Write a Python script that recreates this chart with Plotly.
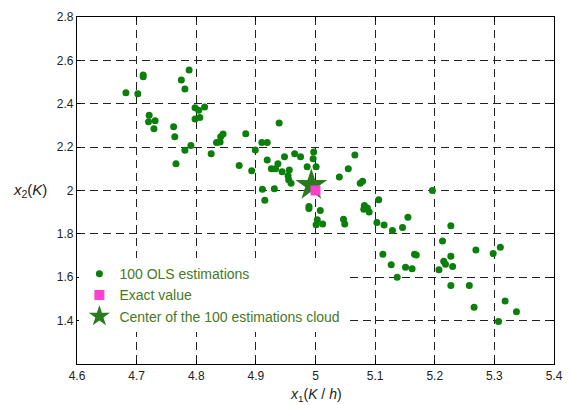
import plotly.graph_objects as go

# OLS estimation cloud (x1 in K/h, x2 in K)
ols_x1 = [4.682, 4.702, 4.711, 4.711, 4.721, 4.720, 4.731, 4.729, 4.762, 4.764,
          4.766, 4.775, 4.781, 4.788, 4.781, 4.791, 4.798, 4.798, 4.804, 4.806,
          4.814, 4.825, 4.834, 4.840, 4.841, 4.845, 4.872, 4.883, 4.893, 4.899,
          4.910, 4.919, 4.919, 4.926, 4.933, 4.937, 4.939, 4.944, 4.948, 4.954,
          4.955, 4.959, 4.956, 4.965, 4.975, 4.986, 4.911, 4.915, 4.931, 4.997,
          4.996, 5.001, 5.040, 5.055, 5.066, 5.075, 5.079, 5.196, 5.106, 4.989,
          4.989, 5.008, 5.003, 5.001, 5.012, 5.047, 5.049, 5.082, 5.081, 5.087,
          5.090, 5.103, 5.115, 5.129, 5.146, 5.155, 5.227, 5.213, 5.113, 5.127,
          5.137, 5.151, 5.162, 5.166, 5.169, 5.207, 5.215, 5.218, 5.227, 5.230,
          5.227, 5.258, 5.266, 5.269, 5.298, 5.310, 5.318, 5.337, 5.307]
ols_x2 = [2.451, 2.446, 2.533, 2.524, 2.347, 2.317, 2.322, 2.285, 2.294, 2.248,
          2.123, 2.509, 2.468, 2.556, 2.186, 2.207, 2.382, 2.330, 2.370, 2.337,
          2.385, 2.170, 2.221, 2.224, 2.248, 2.261, 2.115, 2.262, 2.091, 2.187,
          2.221, 2.221, 2.141, 2.100, 2.100, 2.123, 2.311, 2.087, 2.156, 2.068,
          2.049, 2.034, 2.095, 2.170, 2.156, 2.110, 2.006, 1.955, 2.008, 2.177,
          2.146, 2.109, 2.062, 2.100, 2.164, 2.034, 2.043, 2.000, 1.957, 1.926,
          1.917, 1.908, 1.865, 1.842, 1.845, 1.868, 1.845, 1.931, 1.914, 1.919,
          1.901, 1.853, 1.841, 1.816, 1.829, 1.877, 1.838, 1.767, 1.706, 1.658,
          1.600, 1.646, 1.639, 1.706, 1.703, 1.635, 1.674, 1.660, 1.697, 1.649,
          1.562, 1.562, 1.462, 1.726, 1.709, 1.738, 1.490, 1.441, 1.396]

exact_x1 = [5.0]
exact_x2 = [2.0]

center_x1 = [4.993]
center_x2 = [2.025]

x_ticks = [4.6, 4.7, 4.8, 4.9, 5.0, 5.1, 5.2, 5.3, 5.4]
x_ticklabels = ["4.6", "4.7", "4.8", "4.9", "5", "5.1", "5.2", "5.3", "5.4"]
y_ticks = [1.4, 1.6, 1.8, 2.0, 2.2, 2.4, 2.6, 2.8]
y_ticklabels = ["1.4", "1.6", "1.8", "2", "2.2", "2.4", "2.6", "2.8"]

FONT = "Liberation Sans, Arial, sans-serif"
LEG_COLOR = "#467a1f"

fig = go.Figure()
fig.add_trace(go.Scatter(
    x=ols_x1, y=ols_x2, mode="markers", name="100 OLS estimations", legendrank=1,
    marker=dict(symbol="circle", size=7, color="#0a7f0a", line=dict(width=0))))
fig.add_trace(go.Scatter(
    x=center_x1, y=center_x2, mode="markers", name="Center of the 100 estimations cloud",
    legendrank=3,
    marker=dict(symbol="star", size=24, color="#2a7a1e", line=dict(width=0))))
fig.add_trace(go.Scatter(
    x=exact_x1, y=exact_x2, mode="markers", name="Exact value", legendrank=2,
    marker=dict(symbol="square", size=10, color="#ff3fd0", line=dict(width=0))))

axis_common = dict(
    showline=True, linecolor="black", linewidth=1.2, mirror="ticks",
    ticks="inside", ticklen=4, tickcolor="black",
    showgrid=True, gridcolor="#222222", gridwidth=1, griddash="8px,5px",
    zeroline=False, tickfont=dict(family=FONT, size=12, color="#222222"),
)

fig.update_xaxes(range=[4.6, 5.4], tickvals=x_ticks, ticktext=x_ticklabels, **axis_common)
fig.update_yaxes(range=[1.2, 2.8], tickvals=y_ticks, ticktext=y_ticklabels, **axis_common)

fig.update_layout(
    width=572, height=405,
    margin=dict(l=77, r=9, t=17, b=41),
    paper_bgcolor="white", plot_bgcolor="white",
    font=dict(family=FONT, size=12, color="#222222"),
    showlegend=True,
    legend=dict(x=0.005, y=0.305, xanchor="left", yanchor="top",
                bgcolor="white", borderwidth=0,
                font=dict(family=FONT, size=14, color=LEG_COLOR),
                itemsizing="trace", tracegroupgap=0),
    annotations=[
        dict(text="<i>x</i><sub>1</sub>(<i>K</i> / <i>h</i>)", xref="paper", yref="paper",
             x=0.5, y=-0.0906, xanchor="center", yanchor="middle", showarrow=False,
             font=dict(family=FONT, size=14, color="#222222")),
        dict(text="<i>x</i><sub>2</sub>(<i>K</i>)", xref="paper", yref="y",
             x=-0.138, y=2.0, xanchor="left", yanchor="middle", showarrow=False,
             font=dict(family=FONT, size=15, color="#222222")),
    ],
)

fig.write_html("out.html")
